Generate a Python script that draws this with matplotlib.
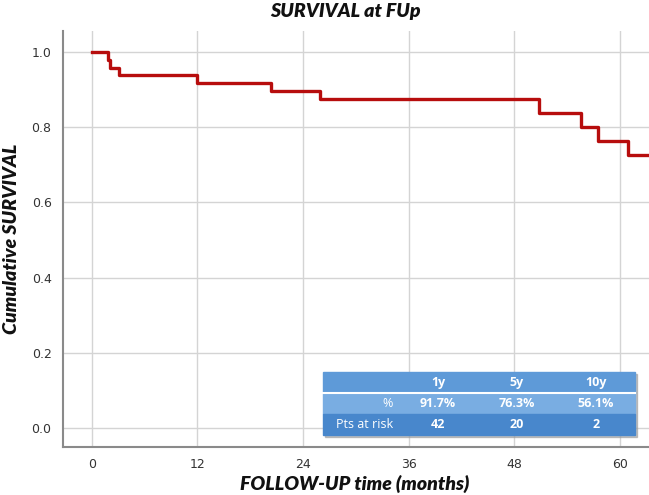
import matplotlib
matplotlib.use("Agg")
import matplotlib.pyplot as plt
from matplotlib.patches import Rectangle

# Kaplan-Meier steps
months = [0, 1.9, 2.1, 3.1, 11.9, 20.4, 25.9, 50.8, 55.6, 57.5, 60.9, 63.3]
survival = [1.0, 0.979, 0.958, 0.9375, 0.917, 0.896, 0.875, 0.836, 0.799, 0.763, 0.726, 0.726]

x_ticks = [0, 12, 24, 36, 48, 60]
y_ticks = [0.0, 0.2, 0.4, 0.6, 0.8, 1.0]

table_header = ["", "1y", "5y", "10y"]
table_pct = ["%", "91.7%", "76.3%", "56.1%"]
table_risk = ["Pts at risk", "42", "20", "2"]

W, H = 649, 495


def px(x, y):
    # pixel (from top-left) to figure fraction
    return x / W, 1 - y / H


def main():
    fig = plt.figure(figsize=(W / 100, H / 100), dpi=100)
    ax = fig.add_axes([62.7 / W, 1 - 446.7 / H, (W - 62.7) / W, (446.7 - 31) / H])

    ax.plot(months, survival, drawstyle="steps-post", color="#b70d0d", lw=2.4, zorder=3)

    ax.set_xlim(-3.3, 63.3)
    ax.set_ylim(-0.049, 1.055)
    ax.set_xticks(x_ticks)
    ax.set_yticks(y_ticks)
    ax.set_yticklabels([f"{v:.1f}" for v in y_ticks])
    ax.grid(True, color="#d4d4d4", lw=1)
    ax.set_axisbelow(True)
    ax.tick_params(length=0, labelsize=9, colors="#333333", pad=8)
    for s in ["top", "right"]:
        ax.spines[s].set_visible(False)
    for s in ["left", "bottom"]:
        ax.spines[s].set_color("#8a8a8a")
        ax.spines[s].set_linewidth(1.5)

    lab = dict(family="Lato", fontweight="heavy", fontstyle="italic", fontsize=14, color="#111111")
    fig.text(*px(345, 12), "SURVIVAL at FUp", ha="center", va="center", **lab)
    fig.text(*px(355, 484), "FOLLOW-UP time (months)", ha="center", va="center", **lab)
    fig.text(*px(12, 239), "Cumulative SURVIVAL", ha="center", va="center", rotation=90, **lab)

    # summary table
    x0, x1 = 323, 635
    rows = [(372, 393, "#5e9ad8", table_header),
            (393, 414, "#79ade2", table_pct),
            (414, 435, "#4887cc", table_risk)]
    fx, fy = px(x0 + 2, 437)
    fig.patches.append(Rectangle((fx, fy), (x1 - x0) / W, (437 - 374) / H,
                                 transform=fig.transFigure, color="#9a9a9a", alpha=0.6, zorder=5))
    col_x = [393, 438, 517, 596]
    for top, bot, col, vals in rows:
        fx, fy = px(x0, bot)
        fig.patches.append(Rectangle((fx, fy), (x1 - x0) / W, (bot - top) / H,
                                     transform=fig.transFigure, color=col, zorder=6))
        yc = (top + bot) / 2
        for i, v in enumerate(vals):
            if not v:
                continue
            if i == 0:
                fig.text(*px(col_x[0], yc), v, ha="right", va="center", fontsize=9,
                         color="white", family="Open Sans", zorder=7)
            else:
                fig.text(*px(col_x[i], yc), v, ha="center", va="center", fontsize=9,
                         color="white", family="Open Sans", fontweight="bold", zorder=7)
    fig.lines.append(plt.Line2D([x0 / W, x1 / W], [1 - 393 / H, 1 - 393 / H],
                                transform=fig.transFigure, color="white", lw=1.5, zorder=7))

    fig.savefig("out.png", dpi=100)


if __name__ == "__main__":
    main()
